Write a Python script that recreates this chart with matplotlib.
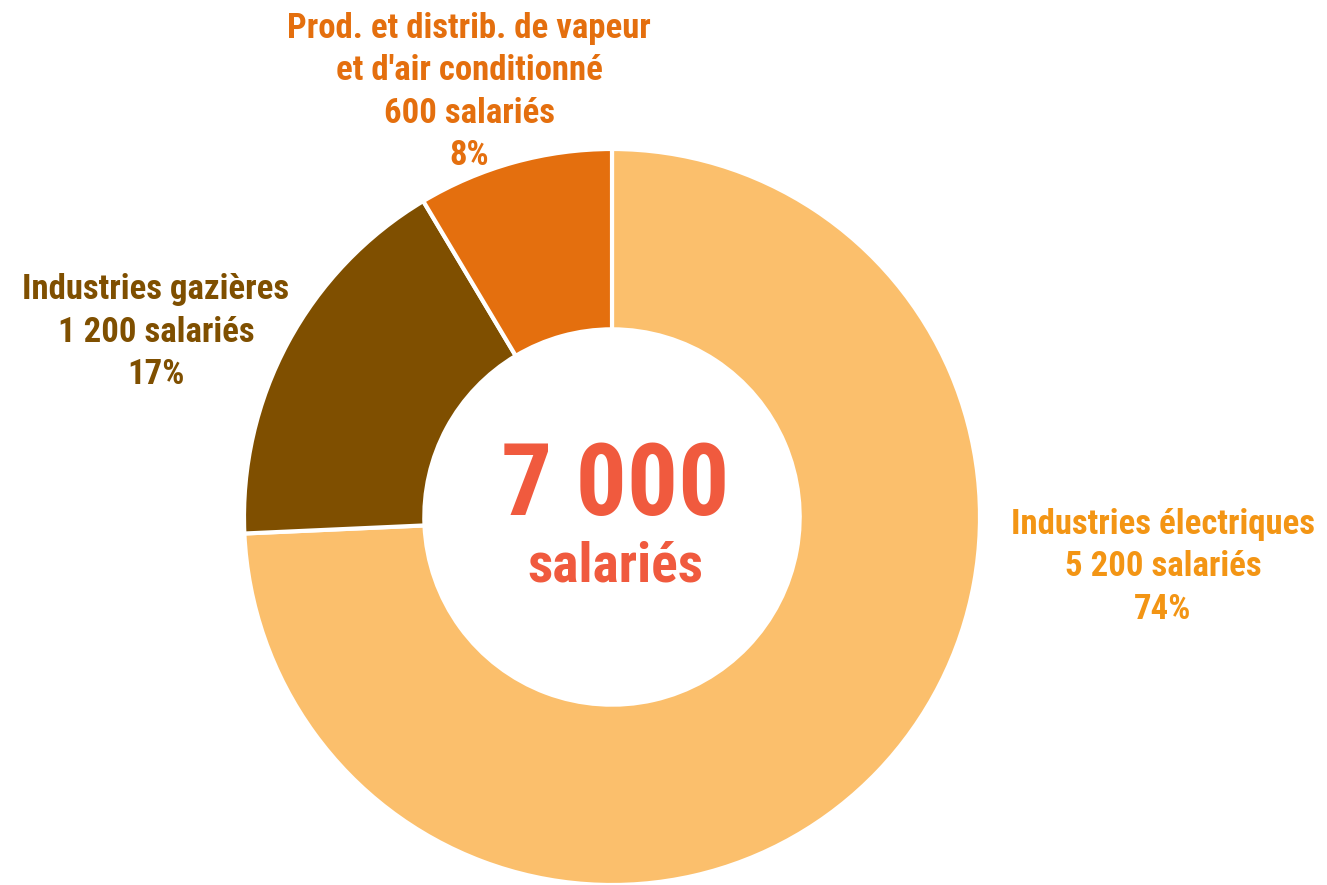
import matplotlib
matplotlib.use("Agg")
import matplotlib.pyplot as plt

categories = ["Industries électriques", "Industries gazières", "Prod. et distrib. de vapeur\net d'air conditionné"]
values = [5200, 1200, 600]
percents = ["74%", "17%", "8%"]
value_labels = ["5 200 salariés", "1 200 salariés", "600 salariés"]
slice_colors = ["#FBBF6C", "#7F4F00", "#E46F0E"]
label_colors = ["#F39514", "#7F4F00", "#E46F0E"]
total_label = "7 000"
total_sub = "salariés"

plt.rcParams['font.family'] = ['Roboto Condensed', 'Liberation Sans', 'DejaVu Sans']

W, H = 1327, 885
fig = plt.figure(figsize=(W/100, H/100), dpi=100)
cx, cy, R = 612, 517, 368
ax = fig.add_axes([(cx-R)/W, (H-cy-R)/H, 2*R/W, 2*R/H])
ax.pie(values, colors=slice_colors, startangle=90, counterclock=False, radius=1,
       wedgeprops=dict(width=0.49, edgecolor="white", linewidth=3))
ax.set_xlim(-1, 1); ax.set_ylim(-1, 1)
ax.set_aspect('equal')
ax.axis('off')

def fx(x): return x / W
def fy(y): return 1 - y / H

label_pos = [(1163, 567), (156, 332), (469, 92)]
for cat, vl, pc, col, (x, y) in zip(categories, value_labels, percents, label_colors, label_pos):
    fig.text(fx(x), fy(y), f"{cat}\n{vl}\n{pc}", ha="center", va="center",
             color=col, fontsize=25, fontweight="bold", linespacing=1.36)

fig.text(fx(615), fy(488), total_label, ha="center", va="center", color="#F05A3E",
         fontsize=73, fontweight="bold")
fig.text(fx(615), fy(567), total_sub, ha="center", va="center", color="#F05A3E",
         fontsize=40, fontweight="bold")

fig.savefig("out.png", dpi=100, facecolor="white")
